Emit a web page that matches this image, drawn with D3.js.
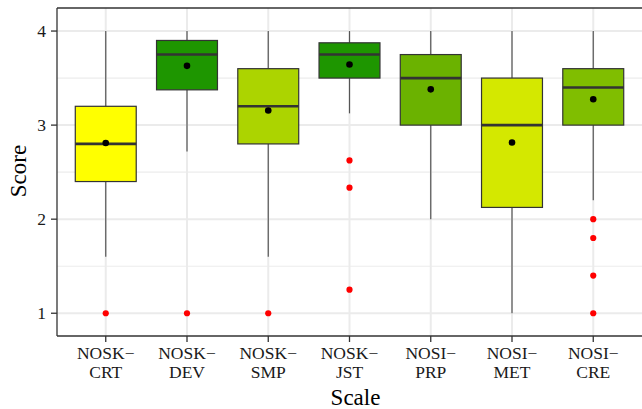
<!DOCTYPE html>
<html>
<head>
<meta charset="utf-8">
<script src="https://cdn.jsdelivr.net/npm/d3@7"></script>
<style>
  html, body { margin: 0; padding: 0; background: #fff; }
  svg { display: block; font-family: "Liberation Serif", "Times New Roman", serif; }
</style>
</head>
<body>
<svg id="chart" width="642" height="409"></svg>
<script>
// Scale categories (two-line tick labels)
const scales = ["NOSK−CRT", "NOSK−DEV", "NOSK−SMP", "NOSK−JST", "NOSI−PRP", "NOSI−MET", "NOSI−CRE"];
const labelTop = ["NOSK−", "NOSK−", "NOSK−", "NOSK−", "NOSI−", "NOSI−", "NOSI−"];
const labelBottom = ["CRT", "DEV", "SMP", "JST", "PRP", "MET", "CRE"];

// Box statistics per scale
const whiskerLow = [1.6, 2.72, 1.6, 3.125, 2.0, 1.0, 2.2];
const q1 = [2.4, 3.375, 2.8, 3.5, 3.0, 2.125, 3.0];
const median = [2.8, 3.75, 3.2, 3.75, 3.5, 3.0, 3.4];
const q3 = [3.2, 3.9, 3.6, 3.875, 3.75, 3.5, 3.6];
const whiskerHigh = [4, 4, 4, 4, 4, 4, 4];
const means = [2.81, 3.63, 3.155, 3.645, 3.38, 2.815, 3.275];
const outliers = [[1.0], [1.0], [1.0], [2.625, 2.335, 1.25], [], [], [2.0, 1.8, 1.4, 1.0]];
const fills = ["#ffff00", "#1e9600", "#acd400", "#1e9600", "#6bb200", "#d4e800", "#80be00"];

const yTicks = [1, 2, 3, 4];
const yMinor = [1.5, 2.5, 3.5];

const svg = d3.select("#chart");
const W = 642, H = 409;
const m = { left: 57, right: 0, top: 8, bottom: 73 };
const pw = W - m.left - m.right, ph = H - m.top - m.bottom;

// discrete axis: categories one step apart with 0.6 step of padding at each end
const x = d3.scalePoint().domain(scales).range([m.left, W - m.right]).padding(0.6);
const cx = d => x(d);
const boxW = x.step() * 0.75;

const y = d3.scaleLinear().domain([0.758, 4.245]).range([H - m.bottom, m.top]);

const grid = svg.append("g");
// minor grid
grid.selectAll(".ymin").data(yMinor).enter().append("line")
  .attr("x1", m.left).attr("x2", W - m.right)
  .attr("y1", d => y(d)).attr("y2", d => y(d))
  .attr("stroke", "#ececec").attr("stroke-width", 1.1);
// major grid
grid.selectAll(".ymaj").data(yTicks).enter().append("line")
  .attr("x1", m.left).attr("x2", W - m.right)
  .attr("y1", d => y(d)).attr("y2", d => y(d))
  .attr("stroke", "#ebebeb").attr("stroke-width", 2);
grid.selectAll(".xmaj").data(scales).enter().append("line")
  .attr("x1", d => cx(d)).attr("x2", d => cx(d))
  .attr("y1", m.top).attr("y2", H - m.bottom)
  .attr("stroke", "#ebebeb").attr("stroke-width", 2);

const g = svg.append("g");
const items = scales.map((s, i) => ({ s, i }));

// whiskers
g.selectAll(".wh").data(items).enter().append("line")
  .attr("x1", d => cx(d.s)).attr("x2", d => cx(d.s))
  .attr("y1", d => y(whiskerHigh[d.i])).attr("y2", d => y(q3[d.i]))
  .attr("stroke", "#555").attr("stroke-width", 1.2);
g.selectAll(".wl").data(items).enter().append("line")
  .attr("x1", d => cx(d.s)).attr("x2", d => cx(d.s))
  .attr("y1", d => y(q1[d.i])).attr("y2", d => y(whiskerLow[d.i]))
  .attr("stroke", "#555").attr("stroke-width", 1.2);

// boxes
g.selectAll(".box").data(items).enter().append("rect")
  .attr("x", d => cx(d.s) - boxW / 2).attr("width", boxW)
  .attr("y", d => y(q3[d.i])).attr("height", d => y(q1[d.i]) - y(q3[d.i]))
  .attr("fill", d => fills[d.i]).attr("stroke", "#333").attr("stroke-width", 1.2);

// medians
g.selectAll(".med").data(items).enter().append("line")
  .attr("x1", d => cx(d.s) - boxW / 2).attr("x2", d => cx(d.s) + boxW / 2)
  .attr("y1", d => y(median[d.i])).attr("y2", d => y(median[d.i]))
  .attr("stroke", "#333").attr("stroke-width", 2.6);

// outliers
const outs = [];
outliers.forEach((arr, i) => arr.forEach(v => outs.push({ s: scales[i], v })));
g.selectAll(".out").data(outs).enter().append("circle")
  .attr("cx", d => cx(d.s)).attr("cy", d => y(d.v)).attr("r", 3.1)
  .attr("fill", "#ff0000");

// means
g.selectAll(".mean").data(items).enter().append("circle")
  .attr("cx", d => cx(d.s)).attr("cy", d => y(means[d.i])).attr("r", 3.3)
  .attr("fill", "#000");

// panel border: left, top, bottom
svg.append("line").attr("x1", m.left).attr("x2", W).attr("y1", m.top).attr("y2", m.top)
  .attr("stroke", "#333").attr("stroke-width", 1.3);
svg.append("line").attr("x1", m.left).attr("x2", W).attr("y1", H - m.bottom).attr("y2", H - m.bottom)
  .attr("stroke", "#333").attr("stroke-width", 1.3);
svg.append("line").attr("x1", m.left).attr("x2", m.left).attr("y1", m.top).attr("y2", H - m.bottom)
  .attr("stroke", "#333").attr("stroke-width", 1.3);

// y axis ticks and labels
const ya = svg.append("g");
ya.selectAll("line").data(yTicks).enter().append("line")
  .attr("x1", m.left - 6).attr("x2", m.left)
  .attr("y1", d => y(d)).attr("y2", d => y(d))
  .attr("stroke", "#333").attr("stroke-width", 1.3);
ya.selectAll("text").data(yTicks).enter().append("text")
  .attr("x", m.left - 11).attr("y", d => y(d)).attr("dy", "0.35em")
  .attr("text-anchor", "end").attr("font-size", 17.5).attr("fill", "#1a1a1a")
  .text(d => d);

// x axis ticks and labels
const xa = svg.append("g");
xa.selectAll("line").data(scales).enter().append("line")
  .attr("x1", d => cx(d)).attr("x2", d => cx(d))
  .attr("y1", H - m.bottom).attr("y2", H - m.bottom + 6)
  .attr("stroke", "#333").attr("stroke-width", 1.3);
xa.selectAll("text.t1").data(items).enter().append("text")
  .attr("x", d => cx(d.s)).attr("y", 359)
  .attr("text-anchor", "middle").attr("font-size", 17.5).attr("fill", "#1a1a1a")
  .text(d => labelTop[d.i]);
xa.selectAll("text.t2").data(items).enter().append("text")
  .attr("x", d => cx(d.s)).attr("y", 378)
  .attr("text-anchor", "middle").attr("font-size", 17.5).attr("fill", "#1a1a1a")
  .text(d => labelBottom[d.i]);

// axis titles
svg.append("text").attr("x", m.left + pw / 2 + 6).attr("y", 405)
  .attr("text-anchor", "middle").attr("font-size", 23).attr("fill", "#000").text("Scale");
svg.append("text")
  .attr("transform", `translate(26,171) rotate(-90)`)
  .attr("text-anchor", "middle").attr("font-size", 23).attr("fill", "#000").text("Score");
</script>
</body>
</html>
